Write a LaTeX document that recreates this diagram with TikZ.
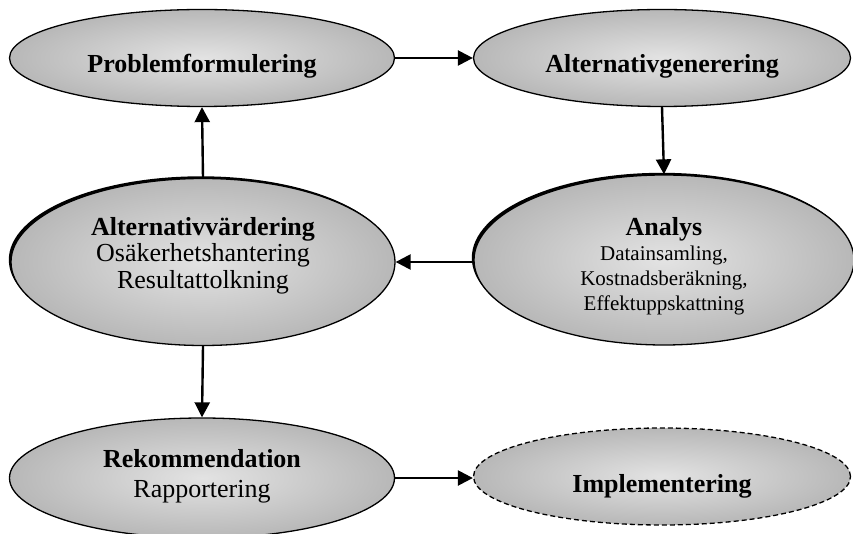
\documentclass[tikz,border=0pt]{standalone}
\usepackage{fontspec}
\setmainfont{Liberation Serif}
\usetikzlibrary{shapes.geometric,arrows.meta,shadows}
\tikzset{
  blob/.style={ellipse, draw=black, line width=1.3pt, inner sep=0pt,
    inner color=black!11, outer color=black!28},
  shblob/.style={blob, drop shadow={shadow xshift=-2.2pt, shadow yshift=2.2pt, fill=black, opacity=1}},
  ttl/.style={align=center, font=\fontsize{26}{26.5}\selectfont},
  conn/.style={line width=2.4pt, -{Triangle[length=15pt,width=15pt]}},
}
\begin{document}
\begin{tikzpicture}[x=1pt,y=-1pt]
\useasboundingbox (0,0) rectangle (853,534);
% ellipses
\node[blob, minimum width=385pt, minimum height=97pt] (P) at (202,58) {};
\node[blob, minimum width=377pt, minimum height=97pt] (G) at (662,58) {};
\node[shblob, minimum width=384pt, minimum height=167pt] (V) at (203,262) {};
\node[shblob, minimum width=380pt, minimum height=170pt] (A) at (664,260) {};
\node[blob, minimum width=385pt, minimum height=120pt] (R) at (202,478) {};
\node[blob, dashed, dash pattern=on 5pt off 3pt, minimum width=377pt, minimum height=97pt] (I) at (662,476.5) {};
% texts
\node[ttl] (Pt) at (202,66) {\bfseries Problemformulering};
\node[ttl] (Gt) at (662,66) {\bfseries Alternativgenerering};
\node[ttl] (Vt) at (203,255.5) {\bfseries Alternativvärdering\\Osäkerhetshantering\\Resultattolkning};
\node[align=center, font=\fontsize{21}{25}\selectfont] (At) at (664,266)
  {{\fontsize{26}{27}\selectfont\bfseries Analys}\\Datainsamling,\\Kostnadsberäkning,\\Effektuppskattning};
\node[ttl, font=\fontsize{26}{30}\selectfont] (Rt) at (202,476) {\bfseries Rekommendation\\Rapportering};
\node[ttl] (It) at (662,486) {\bfseries Implementering};
% connectors
\draw[conn] (P.east) -- (G.west);
\draw[conn] (G.south) -- (A.north);
\draw[conn] (A.west |- V.east) -- (V.east);
\draw[conn] (V.north) -- (P.south);
\draw[conn] (V.south) -- (R.north);
\draw[conn] (R.east) -- (I.west |- R.east);
\end{tikzpicture}
\end{document}
